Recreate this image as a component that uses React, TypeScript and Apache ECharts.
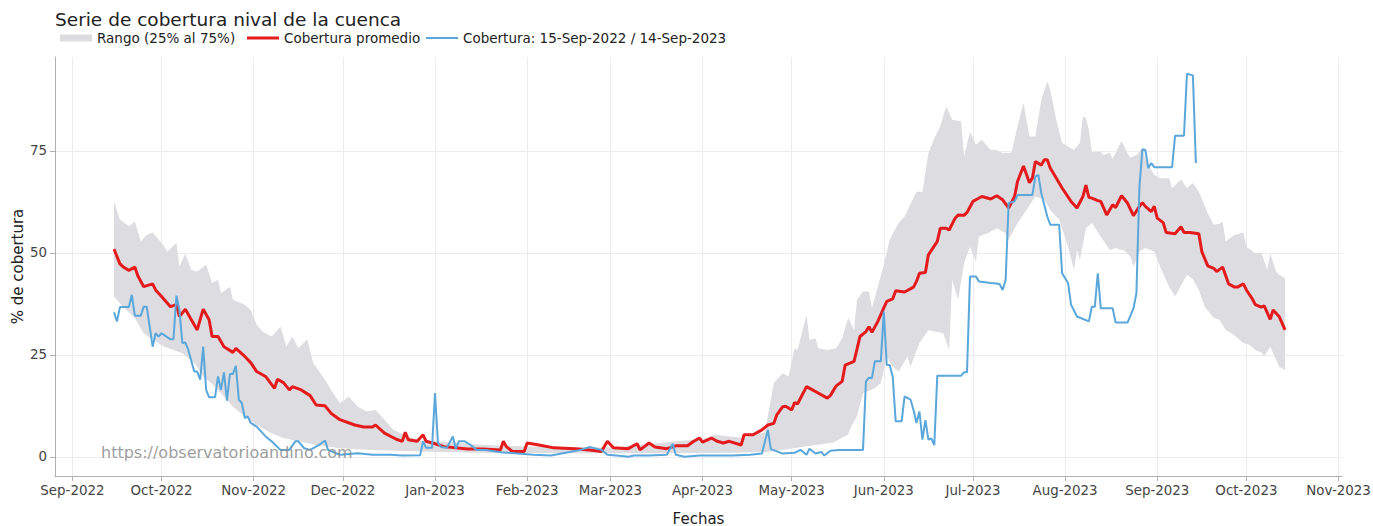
import React, { useEffect, useRef } from "react";
import * as echarts from "echarts";

const TITLE = "Serie de cobertura nival de la cuenca";
const NAME_BAND = "Rango (25% al 75%)";
const NAME_MEAN = "Cobertura promedio";
const NAME_OBS = "Cobertura: 15-Sep-2022 / 14-Sep-2023";
const X_NAME = "Fechas";
const Y_NAME = "% de cobertura";
const WATERMARK = "https://observatorioandino.com";

const MONTH_TICKS = [
  "2022-09-01", "2022-10-01", "2022-11-01", "2022-12-01", "2023-01-01", "2023-02-01", "2023-03-01",
  "2023-04-01", "2023-05-01", "2023-06-01", "2023-07-01", "2023-08-01", "2023-09-01", "2023-10-01", "2023-11-01",
];
const MONTH_NAMES = ["Jan", "Feb", "Mar", "Apr", "May", "Jun", "Jul", "Aug", "Sep", "Oct", "Nov", "Dec"];
const Y_TICKS = [0, 25, 50, 75];
const X_MIN = "2022-08-26";
const X_MAX = "2023-11-02";
const Y_MIN = -4.7;
const Y_MAX = 98;

const MEAN: [string, number][] = [
  ["2022-09-15",50.9],["2022-09-17",47.3],["2022-09-18",46.6],["2022-09-20",45.7],["2022-09-22",46.5],["2022-09-23",44.4],["2022-09-25",41.7],["2022-09-28",42.4],["2022-09-29",40.9],["2022-10-01",39.3],["2022-10-04",36.8],["2022-10-06",37.3],["2022-10-07",34.4],["2022-10-09",36.2],["2022-10-13",31.1],["2022-10-15",36.2],["2022-10-17",33.6],["2022-10-18",29.5],["2022-10-20",29.5],["2022-10-22",27.0],["2022-10-25",25.6],["2022-10-26",26.6],["2022-10-29",24.6],["2022-10-31",23.1],["2022-11-02",20.9],["2022-11-05",19.7],["2022-11-08",16.8],["2022-11-09",19.0],["2022-11-11",18.2],["2022-11-13",16.4],["2022-11-14",17.2],["2022-11-17",16.4],["2022-11-20",15.0],["2022-11-22",12.7],["2022-11-25",12.5],["2022-11-27",10.7],["2022-11-30",9.1],["2022-12-05",7.8],["2022-12-08",7.3],["2022-12-11",7.3],["2022-12-12",7.8],["2022-12-15",5.8],["2022-12-19",4.3],["2022-12-21",3.8],["2022-12-22",6.0],["2022-12-23",4.2],["2022-12-26",3.8],["2022-12-28",5.4],["2022-12-29",3.8],
  ["2023-01-01",3.2],["2023-01-04",2.5],["2023-01-12",1.9],["2023-01-17",1.9],["2023-01-23",1.7],["2023-01-24",3.8],["2023-01-25",2.5],["2023-01-27",1.3],["2023-01-31",1.3],["2023-02-01",3.4],["2023-02-05",2.9],["2023-02-10",2.2],["2023-02-17",2.0],["2023-02-22",1.7],["2023-02-26",1.3],["2023-02-28",3.8],["2023-03-02",2.2],["2023-03-07",2.0],["2023-03-10",3.2],["2023-03-11",1.7],["2023-03-14",3.4],["2023-03-16",2.4],["2023-03-20",2.0],["2023-03-23",2.7],["2023-03-27",2.7],["2023-03-29",3.8],["2023-03-31",4.6],["2023-04-01",3.6],["2023-04-04",4.6],["2023-04-06",3.8],["2023-04-08",3.4],["2023-04-10",3.8],["2023-04-14",2.9],["2023-04-15",5.4],["2023-04-18",5.4],["2023-04-21",6.6],["2023-04-23",7.8],["2023-04-25",8.2],["2023-04-26",10.3],["2023-04-28",12.3],["2023-04-29",12.4],
  ["2023-05-01",11.5],["2023-05-02",13.3],["2023-05-03",13.0],["2023-05-06",17.2],["2023-05-08",16.4],["2023-05-09",16.0],["2023-05-13",14.4],["2023-05-14",15.0],["2023-05-16",17.4],["2023-05-18",18.5],["2023-05-19",22.5],["2023-05-22",23.4],["2023-05-24",29.5],["2023-05-26",30.7],["2023-05-27",31.9],["2023-05-28",30.5],["2023-05-30",33.2],["2023-06-01",36.5],["2023-06-02",38.1],["2023-06-04",38.7],["2023-06-05",40.7],["2023-06-08",40.4],["2023-06-11",41.6],["2023-06-12",43.0],["2023-06-13",45.0],["2023-06-15",45.2],["2023-06-16",49.5],["2023-06-19",52.8],["2023-06-20",56.0],["2023-06-22",56.0],["2023-06-23",55.6],["2023-06-25",58.5],["2023-06-26",59.3],["2023-06-28",59.2],["2023-06-29",59.9],
  ["2023-07-01",62.6],["2023-07-02",63.0],["2023-07-04",63.8],["2023-07-07",63.2],["2023-07-09",64.0],["2023-07-11",63.0],["2023-07-13",61.0],["2023-07-15",63.8],["2023-07-16",67.5],["2023-07-18",71.3],["2023-07-20",67.2],["2023-07-21",68.3],["2023-07-22",72.4],["2023-07-24",71.5],["2023-07-25",72.8],["2023-07-26",72.8],["2023-07-27",70.8],["2023-07-31",65.9],["2023-08-03",62.6],["2023-08-05",61.0],["2023-08-07",63.8],["2023-08-08",66.6],["2023-08-09",63.6],["2023-08-10",63.4],["2023-08-12",62.8],["2023-08-13",62.6],["2023-08-15",59.3],["2023-08-17",61.8],["2023-08-18",61.1],["2023-08-20",64.0],["2023-08-22",62.2],["2023-08-24",59.1],["2023-08-26",61.4],["2023-08-27",62.3],["2023-08-28",61.4],["2023-08-30",60.1],["2023-08-31",61.4],
  ["2023-09-01",58.5],["2023-09-03",57.4],["2023-09-04",55.0],["2023-09-07",54.7],["2023-09-09",56.4],["2023-09-10",55.0],["2023-09-12",55.0],["2023-09-15",54.7],["2023-09-16",50.3],["2023-09-18",46.8],["2023-09-20",46.2],["2023-09-21",45.4],["2023-09-23",46.5],["2023-09-25",42.4],["2023-09-27",41.6],["2023-09-28",41.6],["2023-09-30",42.4],["2023-10-01",40.9],["2023-10-03",38.7],["2023-10-04",37.3],["2023-10-06",36.7],["2023-10-07",37.0],["2023-10-09",33.7],["2023-10-10",36.0],["2023-10-12",34.4],["2023-10-14",31.1],
];

const UPPER: [string, number][] = [
  ["2022-09-15",62.6],["2022-09-17",58.1],["2022-09-18",57.7],["2022-09-20",56.5],["2022-09-22",57.7],["2022-09-24",52.8],["2022-09-26",54.4],["2022-09-28",55.0],["2022-10-01",52.4],["2022-10-03",50.3],["2022-10-06",52.5],["2022-10-07",46.6],["2022-10-09",49.8],["2022-10-11",45.8],["2022-10-13",45.4],["2022-10-16",47.1],["2022-10-18",42.6],["2022-10-20",43.4],["2022-10-21",40.1],["2022-10-24",41.7],["2022-10-25",38.5],["2022-10-29",37.3],["2022-10-31",36.0],["2022-11-02",32.4],["2022-11-04",30.7],["2022-11-07",29.5],["2022-11-10",31.9],["2022-11-12",27.0],["2022-11-14",29.5],["2022-11-16",26.6],["2022-11-19",28.8],["2022-11-21",23.0],["2022-11-25",18.9],["2022-11-27",16.4],["2022-11-30",13.2],["2022-12-03",14.8],["2022-12-06",12.3],["2022-12-09",11.1],["2022-12-12",11.5],["2022-12-15",9.1],["2022-12-18",6.6],["2022-12-23",5.0],["2022-12-27",4.0],
  ["2023-01-01",3.8],["2023-01-08",3.5],["2023-01-15",3.0],["2023-01-22",2.8],["2023-01-29",2.6],["2023-02-05",2.5],["2023-02-12",2.3],["2023-02-19",2.4],["2023-02-26",2.3],["2023-03-05",2.5],["2023-03-12",3.0],["2023-03-19",3.5],["2023-03-26",4.0],["2023-04-01",4.2],["2023-04-05",5.4],["2023-04-10",5.0],["2023-04-15",4.6],["2023-04-19",5.5],["2023-04-22",6.0],["2023-04-24",14.0],["2023-04-25",18.1],["2023-04-28",20.5],["2023-04-30",19.7],
  ["2023-05-02",26.6],["2023-05-03",26.2],["2023-05-06",34.8],["2023-05-07",28.7],["2023-05-09",29.0],["2023-05-10",26.6],["2023-05-13",26.2],["2023-05-16",26.6],["2023-05-18",29.1],["2023-05-20",34.0],["2023-05-22",31.1],["2023-05-23",38.5],["2023-05-25",40.5],["2023-05-27",40.5],["2023-05-28",36.5],["2023-06-01",47.0],["2023-06-03",53.2],["2023-06-06",57.3],["2023-06-08",58.9],["2023-06-12",65.0],["2023-06-14",65.0],["2023-06-16",74.4],["2023-06-18",78.1],["2023-06-20",81.0],["2023-06-22",85.9],["2023-06-24",82.6],["2023-06-27",82.2],["2023-06-28",73.6],["2023-06-30",79.7],
  ["2023-07-02",76.5],["2023-07-04",77.7],["2023-07-07",75.2],["2023-07-09",75.2],["2023-07-11",74.4],["2023-07-14",74.6],["2023-07-16",81.0],["2023-07-18",86.7],["2023-07-20",78.5],["2023-07-22",78.5],["2023-07-24",87.5],["2023-07-26",92.0],["2023-07-27",90.0],["2023-07-29",82.6],["2023-07-31",76.9],["2023-08-04",75.2],["2023-08-06",77.0],["2023-08-07",83.5],["2023-08-08",83.0],["2023-08-09",80.1],["2023-08-10",74.8],["2023-08-13",74.8],["2023-08-14",74.0],["2023-08-16",74.6],["2023-08-17",73.0],["2023-08-20",77.5],["2023-08-22",74.4],["2023-08-23",73.3],["2023-08-25",74.0],["2023-08-27",75.7],["2023-08-28",72.9],["2023-08-31",69.1],
  ["2023-09-02",68.3],["2023-09-05",68.3],["2023-09-06",65.9],["2023-09-09",67.9],["2023-09-11",65.9],["2023-09-13",67.1],["2023-09-15",65.0],["2023-09-18",59.7],["2023-09-20",56.9],["2023-09-22",57.1],["2023-09-23",57.7],["2023-09-24",52.8],["2023-09-27",54.4],["2023-09-30",55.0],["2023-10-01",51.5],["2023-10-04",49.9],["2023-10-06",50.1],["2023-10-08",45.8],["2023-10-09",49.8],["2023-10-11",45.4],["2023-10-12",44.6],["2023-10-14",43.8],
];

const LOWER: [string, number][] = [
  ["2022-09-15",39.3],["2022-09-18",36.8],["2022-09-22",34.0],["2022-09-25",30.3],["2022-09-28",28.7],["2022-10-02",27.0],["2022-10-05",26.2],["2022-10-08",25.4],["2022-10-12",23.0],["2022-10-15",19.7],["2022-10-19",17.2],["2022-10-22",14.8],["2022-10-25",12.3],["2022-10-29",9.9],["2022-11-02",7.8],["2022-11-07",5.8],["2022-11-11",4.6],["2022-11-16",3.8],["2022-11-22",2.9],["2022-11-30",2.1],["2022-12-11",1.7],["2022-12-27",1.3],
  ["2023-01-15",1.0],["2023-02-15",0.9],["2023-03-15",0.9],["2023-04-10",1.0],["2023-04-23",1.2],["2023-05-05",2.5],["2023-05-15",3.5],["2023-05-20",5.5],["2023-05-21",7.4],["2023-05-23",10.0],["2023-05-25",15.6],["2023-05-29",16.8],["2023-05-31",18.1],["2023-06-02",24.6],["2023-06-04",22.1],["2023-06-06",20.9],["2023-06-09",24.6],["2023-06-10",22.1],["2023-06-13",27.9],["2023-06-16",31.1],["2023-06-18",30.7],["2023-06-21",30.3],["2023-06-23",26.2],["2023-06-24",43.4],["2023-06-26",38.5],["2023-06-28",47.5],["2023-06-30",51.5],
  ["2023-07-02",47.9],["2023-07-03",54.0],["2023-07-06",54.8],["2023-07-09",56.0],["2023-07-12",54.8],["2023-07-13",53.2],["2023-07-16",57.3],["2023-07-19",60.5],["2023-07-22",63.8],["2023-07-25",63.0],["2023-07-27",60.5],["2023-07-30",58.1],["2023-08-02",51.5],["2023-08-04",45.8],["2023-08-05",50.7],["2023-08-06",48.3],["2023-08-08",56.0],["2023-08-10",57.3],["2023-08-13",54.0],["2023-08-16",50.7],["2023-08-18",51.2],["2023-08-21",50.5],["2023-08-23",49.1],["2023-08-24",46.6],["2023-08-26",50.3],["2023-08-28",51.2],["2023-08-31",50.3],
  ["2023-09-02",46.6],["2023-09-05",41.7],["2023-09-07",39.3],["2023-09-11",44.6],["2023-09-13",43.5],["2023-09-15",40.9],["2023-09-17",36.8],["2023-09-20",34.0],["2023-09-22",33.6],["2023-09-24",31.1],["2023-09-26",30.3],["2023-09-30",27.9],["2023-10-02",27.5],["2023-10-04",26.2],["2023-10-06",25.6],["2023-10-07",24.6],["2023-10-09",27.0],["2023-10-11",23.8],["2023-10-12",22.1],["2023-10-14",21.3],
];

const OBSERVED: [string, number][] = [
  ["2022-09-15",35.4],["2022-09-16",33.2],["2022-09-17",36.7],["2022-09-20",36.7],["2022-09-21",39.7],["2022-09-22",34.6],["2022-09-24",34.6],["2022-09-25",36.8],["2022-09-26",36.8],["2022-09-27",31.9],["2022-09-28",27.0],["2022-09-29",30.3],["2022-09-30",29.5],["2022-10-01",30.3],["2022-10-04",28.8],["2022-10-05",28.8],["2022-10-06",39.5],["2022-10-07",36.0],["2022-10-08",27.9],["2022-10-09",28.0],["2022-10-10",26.2],["2022-10-12",20.9],["2022-10-13",20.9],["2022-10-14",18.9],["2022-10-15",27.0],["2022-10-16",16.4],["2022-10-17",14.6],["2022-10-19",14.6],["2022-10-20",19.7],["2022-10-21",16.4],["2022-10-22",20.7],["2022-10-23",13.8],["2022-10-24",20.3],["2022-10-25",20.3],["2022-10-26",22.3],["2022-10-27",14.0],["2022-10-28",13.2],["2022-10-29",9.5],["2022-10-30",9.9],["2022-10-31",8.3],
  ["2022-11-02",7.4],["2022-11-04",5.8],["2022-11-05",5.0],["2022-11-07",3.8],["2022-11-10",1.7],["2022-11-13",1.7],["2022-11-15",3.8],["2022-11-16",3.8],["2022-11-18",2.1],["2022-11-20",1.7],["2022-11-23",2.9],["2022-11-25",4.0],["2022-11-26",1.7],["2022-11-30",0.5],["2022-12-06",0.9],["2022-12-11",0.5],["2022-12-17",0.5],["2022-12-21",0.3],["2022-12-27",0.4],["2022-12-28",3.8],["2022-12-29",2.2],["2022-12-31",2.2],
  ["2023-01-01",15.6],["2023-01-02",3.4],["2023-01-03",2.4],["2023-01-05",2.2],["2023-01-07",5.0],["2023-01-08",2.0],["2023-01-09",3.8],["2023-01-11",3.8],["2023-01-13",2.9],["2023-01-15",1.7],["2023-01-18",1.7],["2023-01-23",1.1],["2023-01-29",0.8],["2023-02-03",0.5],["2023-02-09",0.3],["2023-02-14",1.0],["2023-02-19",1.7],["2023-02-22",2.4],["2023-02-26",1.7],["2023-02-28",0.5],["2023-03-03",0.3],["2023-03-07",0.0],["2023-03-09",0.3],["2023-03-14",0.3],["2023-03-20",0.5],["2023-03-22",3.2],["2023-03-23",0.5],["2023-03-26",0.0],["2023-03-31",0.3],["2023-04-06",0.3],["2023-04-11",0.3],["2023-04-17",0.5],["2023-04-21",0.8],["2023-04-23",6.6],["2023-04-24",1.9],["2023-04-28",0.8],
  ["2023-05-02",1.0],["2023-05-04",1.7],["2023-05-06",0.5],["2023-05-07",2.0],["2023-05-09",0.8],["2023-05-11",1.2],["2023-05-12",0.3],["2023-05-14",1.5],["2023-05-17",1.7],["2023-05-25",1.7],["2023-05-26",18.5],["2023-05-27",19.4],["2023-05-28",19.3],["2023-05-29",23.4],["2023-05-31",23.4],["2023-06-01",35.6],["2023-06-02",22.5],["2023-06-03",22.5],["2023-06-04",19.7],["2023-06-05",8.7],["2023-06-07",8.7],["2023-06-08",14.8],["2023-06-10",14.0],["2023-06-11",11.5],["2023-06-12",8.3],["2023-06-13",11.1],["2023-06-14",4.2],["2023-06-15",9.0],["2023-06-16",4.2],["2023-06-17",4.5],["2023-06-18",2.9],["2023-06-19",19.9],["2023-06-27",19.9],["2023-06-28",20.7],["2023-06-29",20.7],["2023-06-30",44.2],
  ["2023-07-02",44.2],["2023-07-03",43.0],["2023-07-07",42.6],["2023-07-09",42.5],["2023-07-10",42.3],["2023-07-11",40.9],["2023-07-12",43.4],["2023-07-13",62.2],["2023-07-15",62.6],["2023-07-16",64.2],["2023-07-21",64.2],["2023-07-22",68.7],["2023-07-23",69.1],["2023-07-24",64.6],["2023-07-26",58.9],["2023-07-27",56.9],["2023-07-30",56.9],["2023-07-31",45.0],["2023-08-02",42.6],["2023-08-03",37.3],["2023-08-05",34.4],["2023-08-09",33.2],["2023-08-10",36.8],["2023-08-11",36.8],["2023-08-12",45.0],["2023-08-13",36.4],["2023-08-17",36.4],["2023-08-18",32.9],["2023-08-22",32.9],["2023-08-24",36.4],["2023-08-25",40.1],["2023-08-26",66.0],["2023-08-27",75.4],["2023-08-28",75.2],["2023-08-29",70.8],["2023-08-30",72.0],["2023-08-31",71.0],
  ["2023-09-06",71.0],["2023-09-07",78.7],["2023-09-10",78.7],["2023-09-11",93.9],["2023-09-13",93.5],["2023-09-14",72.0],
];

const COLOR_BAND = "#dcdce1";
const COLOR_MEAN = "#e41a1c";
const COLOR_OBS = "#5aa7dc";
const FONT = "DejaVu Sans";

const toTime = (s: string) => {
  const [y, m, d] = s.split("-").map(Number);
  return new Date(y, m - 1, d).getTime();
};
const toPoints = (arr: [string, number][]) => arr.map(([d, v]) => [toTime(d), v]);
const monthLabel = (v: number) => {
  const d = new Date(v);
  return `${MONTH_NAMES[d.getMonth()]}-${d.getFullYear()}`;
};

const legendBase = {
  top: 31,
  padding: 0,
  itemGap: 0,
  itemWidth: 32,
  itemHeight: 7,
  symbolKeepAspect: true,
  selectedMode: false,
  textStyle: { fontFamily: FONT, fontSize: 13.5, color: "#222", padding: [0, 0, 0, 0] },
};

export default function App() {
  const ref = useRef<HTMLDivElement>(null);
  useEffect(() => {
    if (!ref.current) return;
    const chart = echarts.init(ref.current, undefined, { renderer: "svg" });
    const monthTimes = MONTH_TICKS.map(toTime);
    const upperPts = toPoints(UPPER);
    const lowerPts = toPoints(LOWER);
    const option: any = {
      animation: false,
      backgroundColor: "#ffffff",
      textStyle: { fontFamily: FONT },
      title: {
        text: TITLE,
        left: 55,
        top: 10,
        padding: 0,
        textStyle: { fontFamily: FONT, fontSize: 18.5, fontWeight: "normal", color: "#222" },
      },
      legend: [
        { ...legendBase, left: 60, data: [{ name: NAME_BAND, icon: "rect", itemStyle: { color: COLOR_BAND } }] },
        { ...legendBase, left: 247, data: [{ name: NAME_MEAN, icon: "path://M0,0H32V3H0Z" }] },
        { ...legendBase, left: 426, data: [{ name: NAME_OBS, icon: "path://M0,0H32V2H0Z" }] },
      ],
      grid: { left: 55, right: 31, top: 57, bottom: 50, outerBoundsMode: "none", containLabel: false },
      xAxis: {
        type: "value",
        min: toTime(X_MIN) + 3.5 * 3600 * 1000,
        max: toTime(X_MAX) + 4 * 3600 * 1000,
        name: X_NAME,
        nameLocation: "middle",
        nameGap: 35,
        nameTextStyle: { fontFamily: FONT, fontSize: 15, color: "#222" },
        axisLine: { show: true, onZero: false, lineStyle: { color: "#b0b0b0", width: 1 } },
        axisTick: { show: true, length: 5, customValues: monthTimes, lineStyle: { color: "#b0b0b0" } },
        axisLabel: {
          customValues: monthTimes,
          formatter: (v: number) => monthLabel(v),
          fontFamily: FONT,
          fontSize: 13.4,
          color: "#444",
          margin: 8,
          hideOverlap: false,
        },
        splitLine: { show: true, lineStyle: { color: "#ececf0", width: 1 } },
      },
      yAxis: {
        type: "value",
        min: Y_MIN,
        max: Y_MAX,
        name: Y_NAME,
        nameLocation: "middle",
        nameGap: 30,
        nameMoveOverlap: false,
        nameRotate: 90,
        nameTextStyle: { fontFamily: FONT, fontSize: 15, color: "#222" },
        axisLine: { show: true, onZero: false, lineStyle: { color: "#b0b0b0", width: 1 } },
        axisTick: { show: true, length: 5, customValues: Y_TICKS, lineStyle: { color: "#b0b0b0" } },
        axisLabel: { customValues: Y_TICKS, fontFamily: FONT, fontSize: 13.4, color: "#444", margin: 8 },
        splitLine: { show: true, lineStyle: { color: "#ececf0", width: 1 } },
      },
      graphic: [
        {
          type: "text",
          left: 101,
          top: 444,
          z: 100,
          silent: true,
          style: { text: WATERMARK, fontFamily: FONT, fontSize: 16, fill: "rgba(140,140,140,0.85)" },
        },
      ],
      series: [
        {
          type: "custom",
          name: NAME_BAND,
          silent: true,
          z: 1,
          itemStyle: { color: COLOR_BAND },
          encode: { x: 0, y: 1 },
          data: [upperPts[0]],
          renderItem: (_params: any, api: any) => {
            const pts = [
              ...upperPts.map((p) => api.coord(p)),
              ...lowerPts.slice().reverse().map((p) => api.coord(p)),
            ];
            return { type: "polygon", shape: { points: pts }, style: { fill: COLOR_BAND } };
          },
        },
        {
          type: "line",
          name: NAME_MEAN,
          z: 3,
          symbol: "none",
          showSymbol: false,
          data: toPoints(MEAN),
          itemStyle: { color: COLOR_MEAN },
          lineStyle: { color: COLOR_MEAN, width: 3 },
        },
        {
          type: "line",
          name: NAME_OBS,
          z: 4,
          symbol: "none",
          showSymbol: false,
          data: toPoints(OBSERVED),
          itemStyle: { color: COLOR_OBS },
          lineStyle: { color: COLOR_OBS, width: 2 },
        },
      ],
    };
    chart.setOption(option);
    return () => chart.dispose();
  }, []);
  return (
    <div
      ref={ref}
      style={{ position: "absolute", left: 0, top: 0, width: 1373, height: 526, background: "#fff" }}
    />
  );
}
